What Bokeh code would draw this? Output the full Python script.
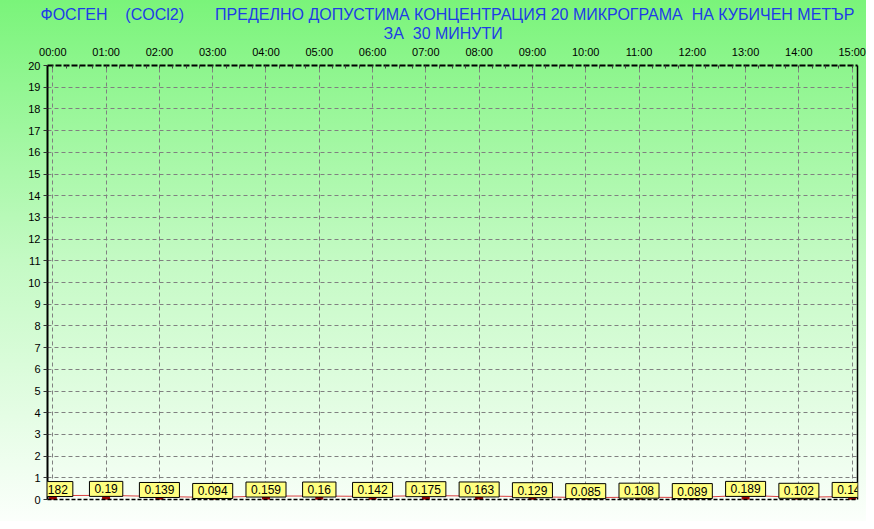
from bokeh.plotting import figure
from bokeh.models import LinearAxis, FixedTicker, Label, Title, ColumnDataSource, Range1d
from bokeh.embed import file_html
from bokeh.resources import INLINE

# ---- data ----
hours = list(range(16))
hour_labels = ["00:00", "01:00", "02:00", "03:00", "04:00", "05:00", "06:00", "07:00",
               "08:00", "09:00", "10:00", "11:00", "12:00", "13:00", "14:00", "15:00"]
values = [0.182, 0.19, 0.139, 0.094, 0.159, 0.16, 0.142, 0.175,
          0.163, 0.129, 0.085, 0.108, 0.089, 0.189, 0.102, 0.141]
value_texts = ["0.182", "0.19", "0.139", "0.094", "0.159", "0.16", "0.142", "0.175",
               "0.163", "0.129", "0.085", "0.108", "0.089", "0.189", "0.102", "0.141"]
y_ticks = list(range(21))
quarter_ticks = [q / 4 for q in range(61)]

NB = "\u00a0"
title_line1 = ("ФОСГЕН" + NB * 4 + "(COCl2)" + NB * 7 +
               "ПРЕДЕЛНО ДОПУСТИМА КОНЦЕНТРАЦИЯ 20 МИКРОГРАМА" + NB * 2 + "НА КУБИЧЕН МЕТЪР")
title_line2 = "ЗА" + NB * 2 + "30 МИНУТИ"

FONT = "Liberation Sans"
TITLE_COLOR = "#1E3CE6"

p = figure(width=866, height=521, output_backend="svg", toolbar_location=None,
           title=None, x_range=Range1d(-0.1, 15.1), y_range=Range1d(0, 20),
           x_axis_location="above",
           min_border_left=47, min_border_right=9, min_border_top=65, min_border_bottom=22)
p.border_fill_color = None
p.background_fill_color = None
p.outline_line_color = None
p.styles = {"background": "linear-gradient(to bottom, #7af47a 0%, #c4fac4 50%, #fbfffb 100%)"}

# top axis (hours)
top = p.xaxis[0]
top.ticker = FixedTicker(ticks=hours, minor_ticks=quarter_ticks)
top.major_label_overrides = {h: lab for h, lab in zip(hours, hour_labels)}
top.axis_line_color = "black"
top.axis_line_width = 2
top.axis_line_dash = "6 2"
top.major_tick_in = 0
top.major_tick_out = 0
top.minor_tick_in = 3
top.minor_tick_out = 0
top.minor_tick_line_color = "#444444"
top.major_label_standoff = 8
top.major_label_text_font = FONT
top.major_label_text_font_size = "11px"
top.major_label_text_color = "black"

# left axis
left = p.yaxis[0]
left.ticker = FixedTicker(ticks=y_ticks)
left.axis_line_color = "black"
left.axis_line_width = 2
left.major_tick_in = 0
left.major_tick_out = 4
left.major_tick_line_color = "#333333"
left.minor_tick_line_color = None
left.major_label_standoff = 3
left.major_label_text_font = FONT
left.major_label_text_font_size = "11px"
left.major_label_text_color = "black"

# bottom & right frame lines
bottom = LinearAxis(ticker=FixedTicker(ticks=[]), major_label_text_font_size="0px",
                    major_tick_out=0, major_tick_in=0, minor_tick_out=0, minor_tick_in=0,
                    major_label_standoff=0, axis_line_color="black", axis_line_width=1.5,
                    axis_line_dash="4 2")
p.add_layout(bottom, "below")
right = LinearAxis(ticker=FixedTicker(ticks=[]), major_label_text_font_size="0px",
                   major_tick_out=0, major_tick_in=0, minor_tick_out=0, minor_tick_in=0,
                   major_label_standoff=0, axis_line_color="black", axis_line_width=1.5)
p.add_layout(right, "right")

# titles (added after axis -> stacked outward)
p.add_layout(Title(text=title_line2, align="left", offset=336, standoff=1,
                   text_font=FONT, text_font_size="16px", text_font_style="normal",
                   text_color=TITLE_COLOR), "above")
p.add_layout(Title(text=title_line1, align="left", offset=-7, standoff=0,
                   text_font=FONT, text_font_size="16px", text_font_style="normal",
                   text_color=TITLE_COLOR), "above")

# grid
p.xgrid.ticker = FixedTicker(ticks=hours)
p.ygrid.ticker = FixedTicker(ticks=y_ticks)
for g in (p.xgrid, p.ygrid):
    g.grid_line_color = "#808080"
    g.grid_line_dash = "4 3"
    g.grid_line_width = 1

# series
src = ColumnDataSource(dict(x=hours, y=values))
p.vbar(x="x", top="y", bottom=0, width=0.13, source=src, fill_color="#a00000", line_color="#a00000")
p.line("x", "y", source=src, line_color="#d84040", line_width=1)
for xv, yv, tv in zip(hours, values, value_texts):
    p.add_layout(Label(x=xv, y=yv, text=tv, text_align="center", text_baseline="bottom",
                       text_font=FONT, text_font_size="12px", text_color="black",
                       background_fill_color="#ffff80", border_line_color="black",
                       border_line_width=1, padding=dict(left=5, right=5, top=3, bottom=3),
                       y_offset=-1, level="overlay"))

open("out.html", "w").write(file_html(p, INLINE))
